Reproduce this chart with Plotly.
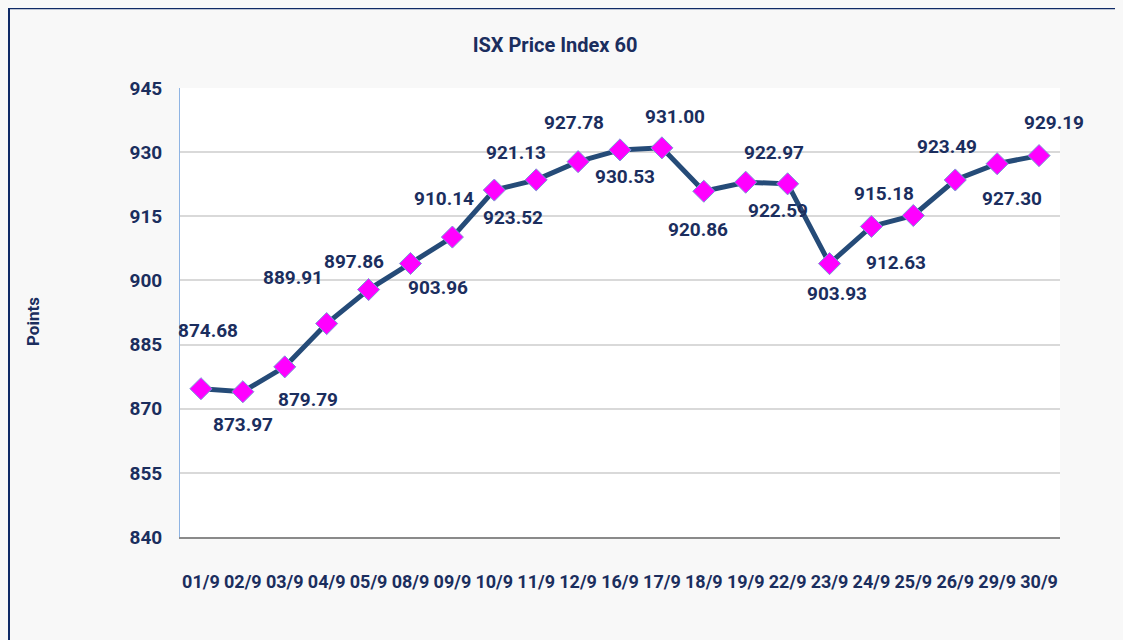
import plotly.graph_objects as go

dates = ["01/9", "02/9", "03/9", "04/9", "05/9", "08/9", "09/9", "10/9", "11/9", "12/9",
         "16/9", "17/9", "18/9", "19/9", "22/9", "23/9", "24/9", "25/9", "26/9", "29/9", "30/9"]
values = [874.68, 873.97, 879.79, 889.91, 897.86, 903.96, 910.14, 921.13, 923.52, 927.78,
          930.53, 931.00, 920.86, 922.97, 922.59, 903.93, 912.63, 915.18, 923.49, 927.30, 929.19]
y_ticks = [840, 855, 870, 885, 900, 915, 930, 945]

# label offsets (pixels: dx right, dy down) as placed in the original chart
label_dx = [7, 0, 23, -34, -15, 28, -8, 22, -23, -4, 5, 13, -6, 28, -10, 7, 25, -29, -8, 15, 15]
label_dy = [-58, 33, 33, -46, -28, 24, -39, -38, 38, -39, 27, -31, 38, -30, 27, 30, 36, -22, -33, 35, -33]

FONT = "Roboto, Liberation Sans, sans-serif"
NAVY = "#1b2e5e"

fig = go.Figure()
fig.add_trace(go.Scatter(
    x=dates, y=values, mode="lines+markers",
    line=dict(color="#254b78", width=5),
    marker=dict(symbol="diamond", size=17, color="#ff00ff",
                line=dict(color="#7a9ad8", width=1)),
    showlegend=False,
))

for d, v, dx, dy in zip(dates, values, label_dx, label_dy):
    fig.add_annotation(x=d, y=v, text=f"{v:.2f}", showarrow=False,
                       xshift=dx, yshift=-dy,
                       font=dict(family=FONT, size=19, color=NAVY, weight="bold"))

# the page body adds an 8px offset; screen coords = figure coords + 8
OFF = 8
W, H = 1123, 640
ml, mr, mt, mb = 180 - OFF, 1123 - (1060 - OFF), 88 - OFF, 640 - (537 - OFF)
pw, ph = W - ml - mr, H - mt - mb

def px2x(px):
    return (px - OFF - ml) / pw

def py2y(py):
    return (H - mb - (py - OFF)) / ph

fig.update_layout(
    width=W, height=H,
    margin=dict(l=ml, r=mr, t=mt, b=mb, autoexpand=False),
    paper_bgcolor="#f8f8f8",
    plot_bgcolor="#ffffff",
    title=dict(text="ISX Price Index 60", x=(555 - OFF) / W, xanchor="center",
               y=1 - (45 - OFF) / H, yanchor="middle",
               font=dict(family=FONT, size=20, color=NAVY, weight="bold")),
    xaxis=dict(
        type="category", range=[-0.5, len(dates) - 0.5],
        showgrid=False, showline=True, linecolor="#8a8a8a", linewidth=2,
        ticks="", ticklabelstandoff=27, tickangle=0,
        tickfont=dict(family=FONT, size=18, color=NAVY, weight="bold"),
    ),
    yaxis=dict(
        range=[840, 945], tickvals=y_ticks, ticktext=[str(t) for t in y_ticks],
        showgrid=True, gridcolor="#d9d9d9", gridwidth=1.5,
        showline=True, linecolor="#8fb4e3", linewidth=1,
        zeroline=False, ticks="", ticklabelstandoff=13,
        tickfont=dict(family=FONT, size=19, color=NAVY, weight="bold"),
    ),
    shapes=[
        dict(type="line", xref="paper", yref="paper",
             x0=px2x(8), x1=px2x(1130), y0=py2y(8), y1=py2y(8),
             line=dict(color="#0f2a66", width=2.5)),
        dict(type="line", xref="paper", yref="paper",
             x0=px2x(9), x1=px2x(9), y0=py2y(8), y1=py2y(660),
             line=dict(color="#0f2a66", width=2)),
    ],
    annotations=list(fig.layout.annotations) + [
        dict(text="Points", xref="paper", yref="paper", x=px2x(33), y=py2y(322),
             textangle=-90, showarrow=False, xanchor="center", yanchor="middle",
             font=dict(family=FONT, size=17, color=NAVY, weight="bold")),
    ],
)

fig.write_html("out.html", post_script="document.body.style.background='#f8f8f8';")
